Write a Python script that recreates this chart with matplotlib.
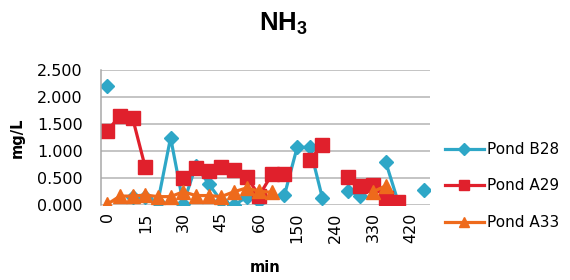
import numpy as np
import matplotlib
matplotlib.use("Agg")
import matplotlib.pyplot as plt

plt.rcParams['font.family'] = ['DejaVu Sans']
plt.rcParams['mathtext.fontset'] = 'custom'
plt.rcParams['mathtext.bf'] = 'Liberation Sans:bold'
plt.rcParams['mathtext.rm'] = 'Liberation Sans'
plt.rcParams['mathtext.default'] = 'bf'

nan = np.nan

# sampling times (min), one category each
minutes = [0, 5, 10, 15, 20, 25, 30, 35, 40, 45, 50, 55, 60,
           90, 120, 150, 180, 210, 240, 270, 300, 330, 360, 390, 420, 450]

pond_b28 = [2.20, nan, 0.15, 0.15, 0.07, 1.25, 0.03, 0.73, 0.40, 0.08, 0.00, 0.15, 0.08,
            nan, 0.19, 1.07, 1.07, 0.13, nan, 0.27, 0.17, nan, 0.80, 0.05, nan, 0.28]
pond_a29 = [1.38, 1.65, 1.61, 0.70, nan, nan, 0.50, 0.68, 0.63, 0.70, 0.65, 0.53, 0.18,
            0.57, 0.57, nan, 0.84, 1.11, nan, 0.52, 0.36, 0.38, 0.14, 0.07, nan, nan]
pond_a33 = [0.02, 0.17, 0.17, 0.19, 0.16, 0.16, 0.25, 0.18, 0.18, 0.16, 0.25, 0.32, 0.26,
            0.24, nan, nan, nan, nan, nan, nan, nan, 0.25, 0.36, nan, nan, nan]

yticks = [0, 0.5, 1.0, 1.5, 2.0, 2.5]

fig = plt.figure(figsize=(5.7, 2.8), dpi=100)
ax = fig.add_axes([101 / 570, 1 - 205.3 / 280, 329 / 570, 135.3 / 280])

x = np.arange(len(minutes))
ax.plot(x, pond_b28, color='#2ea7c7', lw=2.3, marker='D', ms=7.5, label='Pond B28')
ax.plot(x, pond_a29, color='#e0202c', lw=2.3, marker='s', ms=9.5, label='Pond A29')
ax.plot(x, pond_a33, color='#ee6a1c', lw=2.3, marker='^', ms=9.5, label='Pond A33')

ax.set_xlim(-0.5, len(minutes) - 0.5)
ax.set_ylim(0, 2.5)
ax.set_yticks(yticks)
ax.set_yticklabels(['%.3f' % v for v in yticks], fontsize=11.5)
ax.set_xticks(x[::3])
ax.set_xticklabels([str(m) for m in minutes[::3]], rotation=90, fontsize=11.5)
ax.tick_params(axis='y', length=0, pad=13)
ax.tick_params(axis='x', length=0, pad=5)

ax.grid(axis='y', color='#b4b4b4', lw=1.1)
ax.set_axisbelow(True)
for s in ['top', 'right', 'bottom']:
    ax.spines[s].set_visible(False)
ax.spines['left'].set_color('#a8a8a8')
ax.spines['left'].set_linewidth(1.1)

fig.text(0.497, 0.915, r'NH$_3$', fontsize=18.5, fontweight='bold',
         family='Liberation Sans', ha='center', va='center')
fig.text(17 / 570, 1 - 138 / 280, 'mg/L', rotation=90, fontsize=10.5,
         fontweight='bold', ha='center', va='center')
fig.text(265 / 570, 1 - 268 / 280, 'min', fontsize=10.5,
         fontweight='bold', ha='center', va='center')

fig.legend(loc='center left', bbox_to_anchor=(0.78, 1 - 186 / 280), frameon=False,
           fontsize=11, labelspacing=1.4, handlelength=2.6, handletextpad=0.2,
           markerscale=0.8, borderaxespad=0, borderpad=0)

fig.savefig('out.png', dpi=100)
